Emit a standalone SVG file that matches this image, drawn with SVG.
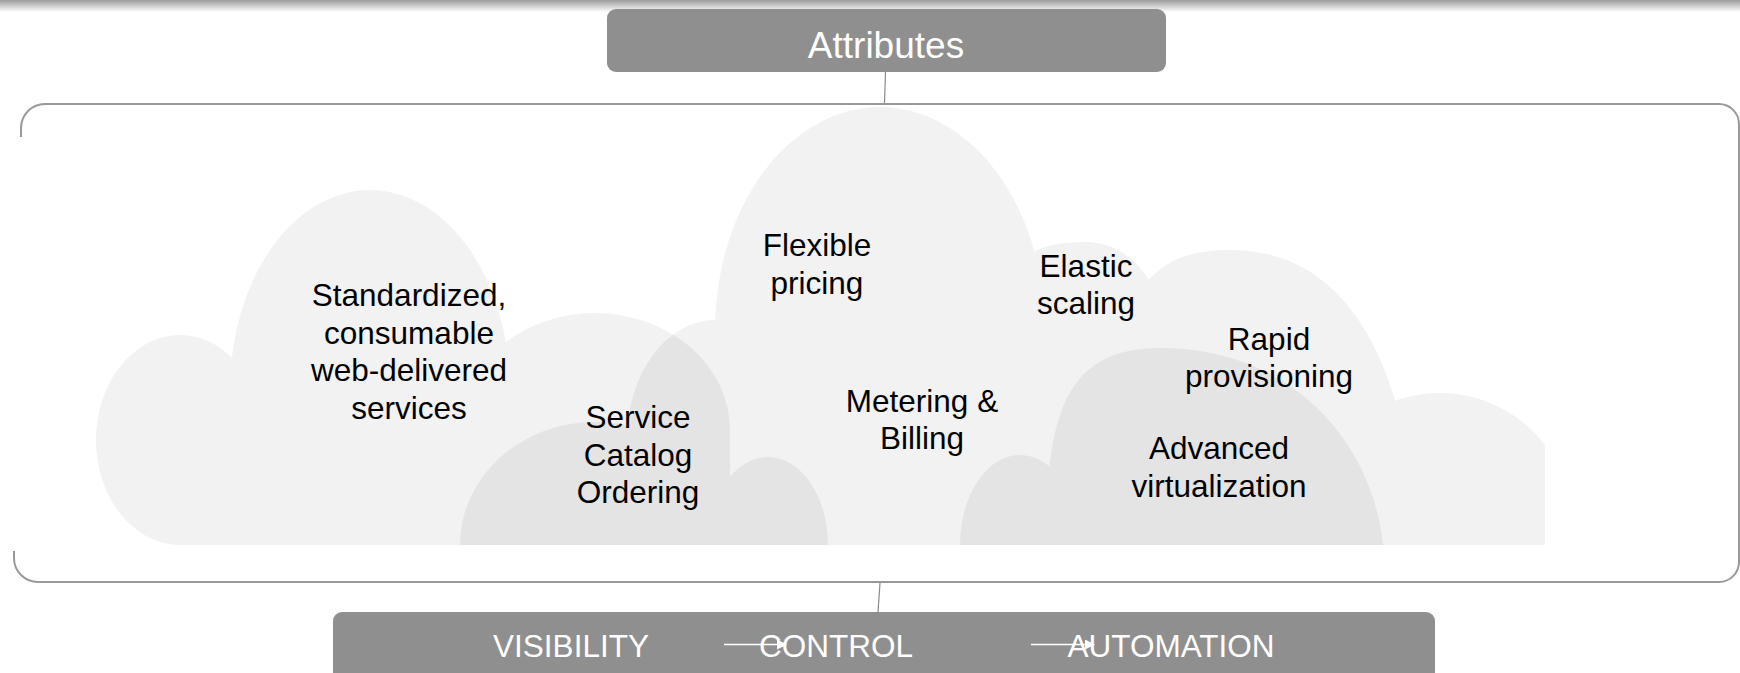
<svg xmlns="http://www.w3.org/2000/svg" width="1740" height="673" viewBox="0 0 1740 673">
  <defs>
    <linearGradient id="topShade" x1="0" y1="0" x2="0" y2="1">
      <stop offset="0" stop-color="#9c9c9c"/>
      <stop offset="1" stop-color="#ffffff"/>
    </linearGradient>
    <clipPath id="cloudArea">
      <rect x="0" y="0" width="1545" height="545"/>
    </clipPath>
    <clipPath id="centerCloudClip">
      <path d="M627,545 V440 A88,120 0 0 1 803,440 V545 Z"/>
      <path d="M715,545 V330 A165,223 0 0 1 1045,330 V545 Z"/>
    </clipPath>
    <marker id="arrow" viewBox="0 0 10 10" refX="9" refY="5" markerWidth="10" markerHeight="10" markerUnits="userSpaceOnUse" orient="auto">
      <path d="M0,0 L10,5 L0,10 Z" fill="#ffffff"/>
    </marker>
    <style>
      .box { fill: #8f8f8f; }
      .light { fill: #f2f2f2; }
      .dark { fill: #e4e4e4; }
      .frame { fill: none; stroke: #999999; stroke-width: 2; }
      .conn { stroke: #8a8a8a; stroke-width: 1.2; fill: none; }
      .flow { stroke: #ffffff; stroke-width: 1.5; fill: none; }
      .lbl { font-family: "Liberation Sans", Arial, sans-serif; font-size: 31.5px; fill: #000000; text-anchor: middle; }
      .wlbl { font-family: "Liberation Sans", Arial, sans-serif; font-size: 31.5px; fill: #ffffff; text-anchor: middle; }
      .title { font-family: "Liberation Sans", Arial, sans-serif; font-size: 37px; fill: #ffffff; text-anchor: middle; }
    </style>
  </defs>

  <rect x="0" y="0" width="1740" height="12" fill="url(#topShade)"/>

  <!-- container frame -->
  <g id="container">
    <path class="frame" d="M21,137 V128 A24,24 0 0 1 45,104 H1719 A20,20 0 0 1 1739,124 V562 A20,20 0 0 1 1719,582 H38 A24,24 0 0 1 14,558 V551"/>
  </g>

  <!-- clouds -->
  <g id="clouds" clip-path="url(#cloudArea)">
    <g class="light">
      <!-- left cloud -->
      <ellipse cx="180" cy="440" rx="84" ry="105"/>
      <rect x="180" y="430" width="550" height="115"/>
      <path d="M230,545 V390 A140,200 0 0 1 510,390 V545 Z"/>
      <path d="M460,545 V430 A135,117 0 0 1 730,430 V545 Z"/>
      <!-- center cloud -->
      <path d="M627,545 V440 A88,120 0 0 1 803,440 V545 Z"/>
      <path d="M715,545 V330 A165,223 0 0 1 1045,330 V545 Z"/>
      <path d="M1000,545 V300 C1010,255 1040,242 1085,242 C1130,242 1160,280 1175,347 V545 Z"/>
      <!-- right cloud -->
      <path d="M1130,545 V310 C1150,266 1180,250 1230,250 C1302,250 1362,292 1395,400 V545 Z"/>
      <path d="M1310,545 V520 A130,127 0 0 1 1570,520 V545 Z"/>
    </g>
    <g class="dark">
      <path clip-path="url(#centerCloudClip)" d="M460,545 V430 A135,117 0 0 1 730,430 V545 Z"/>
      <path d="M460,545 A135,123 0 0 1 730,545 Z"/>
      <path d="M708,545 A60,88 0 0 1 828,545 Z"/>
      <path d="M960,545 A60,90 0 0 1 1080,545 Z"/>
      <path d="M1046,545 C1046,420 1062,348 1160,348 C1290,348 1372,440 1383,545 Z"/>
    </g>
  </g>

  <!-- cloud labels -->
  <g id="node-standardized">
    <text class="lbl" x="409" y="306">Standardized,</text>
    <text class="lbl" x="409" y="343.5">consumable</text>
    <text class="lbl" x="409" y="381">web-delivered</text>
    <text class="lbl" x="409" y="418.5">services</text>
  </g>
  <g id="node-service-catalog">
    <text class="lbl" x="638" y="428">Service</text>
    <text class="lbl" x="638" y="465.5">Catalog</text>
    <text class="lbl" x="638" y="503">Ordering</text>
  </g>
  <g id="node-flexible-pricing">
    <text class="lbl" x="817" y="256">Flexible</text>
    <text class="lbl" x="817" y="293.5">pricing</text>
  </g>
  <g id="node-metering">
    <text class="lbl" x="922" y="411.5">Metering &amp;</text>
    <text class="lbl" x="922" y="449">Billing</text>
  </g>
  <g id="node-elastic">
    <text class="lbl" x="1086" y="276.5">Elastic</text>
    <text class="lbl" x="1086" y="313.5">scaling</text>
  </g>
  <g id="node-rapid">
    <text class="lbl" x="1269" y="350">Rapid</text>
    <text class="lbl" x="1269" y="387">provisioning</text>
  </g>
  <g id="node-advanced">
    <text class="lbl" x="1219" y="458.5">Advanced</text>
    <text class="lbl" x="1219" y="496.5">virtualization</text>
  </g>

  <!-- header box -->
  <g id="node-attributes">
    <rect class="box" x="607" y="9" width="559" height="63" rx="9"/>
    <text class="title" x="886" y="58">Attributes</text>
  </g>

  <!-- footer box -->
  <g id="node-footer">
    <rect class="box" x="333" y="612" width="1102" height="80" rx="9"/>
    <text class="wlbl" x="571" y="656.5">VISIBILITY</text>
    <text class="wlbl" x="836" y="656.5">CONTROL</text>
    <text class="wlbl" x="1171" y="656.5">AUTOMATION</text>
  </g>

  <!-- connectors -->
  <g id="connectors">
    <line class="conn" x1="885.5" y1="72" x2="884.5" y2="103"/>
    <line class="conn" x1="880" y1="583" x2="878" y2="612"/>
    <line class="flow" x1="724" y1="644.5" x2="786" y2="644.5" marker-end="url(#arrow)"/>
    <line class="flow" x1="1031" y1="644.5" x2="1094" y2="644.5" marker-end="url(#arrow)"/>
  </g>
</svg>
